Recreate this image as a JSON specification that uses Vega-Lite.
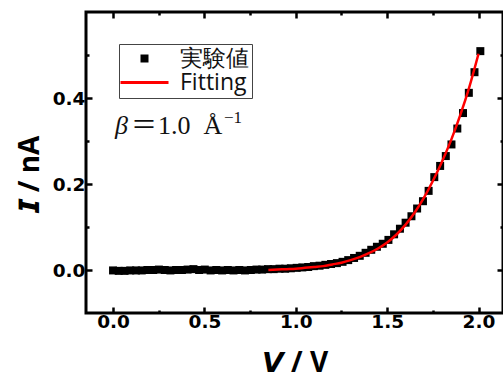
{
  "$schema": "https://vega.github.io/schema/vega-lite/v6.json",
  "width": 417,
  "height": 301,
  "autosize": {"type": "none"},
  "padding": {"left": 86, "top": 12, "right": 0, "bottom": 60},
  "background": "white",
  "config": {
    "view": {"stroke": "black", "strokeWidth": 3},
    "axis": {
      "domain": false,
      "grid": false,
      "tickColor": "black",
      "tickWidth": 2.5,
      "labelFont": "DejaVu Sans",
      "labelFontWeight": "bold",
      "labelFontSize": 18.5,
      "labelColor": "black",
      "titleFont": "Open Sans",
      "titleFontWeight": "bold",
      "titleFontSize": 28,
      "titleColor": "black"
    }
  },
  "datasets": {
    "points": [
      {"V": 0.000, "I": -0.001, "series": "実験値"},
      {"V": 0.031, "I": -0.002, "series": "実験値"},
      {"V": 0.063, "I": -0.002, "series": "実験値"},
      {"V": 0.094, "I": -0.001, "series": "実験値"},
      {"V": 0.126, "I": -0.001, "series": "実験値"},
      {"V": 0.157, "I": -0.001, "series": "実験値"},
      {"V": 0.188, "I": 0.000, "series": "実験値"},
      {"V": 0.220, "I": 0.000, "series": "実験値"},
      {"V": 0.251, "I": 0.001, "series": "実験値"},
      {"V": 0.283, "I": 0.000, "series": "実験値"},
      {"V": 0.314, "I": -0.001, "series": "実験値"},
      {"V": 0.345, "I": 0.000, "series": "実験値"},
      {"V": 0.377, "I": 0.000, "series": "実験値"},
      {"V": 0.408, "I": 0.001, "series": "実験値"},
      {"V": 0.440, "I": 0.002, "series": "実験値"},
      {"V": 0.471, "I": 0.000, "series": "実験値"},
      {"V": 0.502, "I": 0.001, "series": "実験値"},
      {"V": 0.534, "I": -0.001, "series": "実験値"},
      {"V": 0.565, "I": 0.000, "series": "実験値"},
      {"V": 0.597, "I": -0.001, "series": "実験値"},
      {"V": 0.628, "I": 0.000, "series": "実験値"},
      {"V": 0.659, "I": -0.001, "series": "実験値"},
      {"V": 0.691, "I": 0.000, "series": "実験値"},
      {"V": 0.722, "I": -0.001, "series": "実験値"},
      {"V": 0.754, "I": 0.000, "series": "実験値"},
      {"V": 0.785, "I": 0.001, "series": "実験値"},
      {"V": 0.816, "I": 0.001, "series": "実験値"},
      {"V": 0.848, "I": 0.002, "series": "実験値"},
      {"V": 0.879, "I": 0.002, "series": "実験値"},
      {"V": 0.911, "I": 0.003, "series": "実験値"},
      {"V": 0.942, "I": 0.003, "series": "実験値"},
      {"V": 0.973, "I": 0.004, "series": "実験値"},
      {"V": 1.005, "I": 0.005, "series": "実験値"},
      {"V": 1.036, "I": 0.006, "series": "実験値"},
      {"V": 1.068, "I": 0.007, "series": "実験値"},
      {"V": 1.099, "I": 0.009, "series": "実験値"},
      {"V": 1.130, "I": 0.010, "series": "実験値"},
      {"V": 1.162, "I": 0.012, "series": "実験値"},
      {"V": 1.193, "I": 0.014, "series": "実験値"},
      {"V": 1.225, "I": 0.016, "series": "実験値"},
      {"V": 1.256, "I": 0.019, "series": "実験値"},
      {"V": 1.287, "I": 0.023, "series": "実験値"},
      {"V": 1.319, "I": 0.028, "series": "実験値"},
      {"V": 1.350, "I": 0.033, "series": "実験値"},
      {"V": 1.382, "I": 0.040, "series": "実験値"},
      {"V": 1.413, "I": 0.047, "series": "実験値"},
      {"V": 1.444, "I": 0.054, "series": "実験値"},
      {"V": 1.476, "I": 0.061, "series": "実験値"},
      {"V": 1.507, "I": 0.070, "series": "実験値"},
      {"V": 1.538, "I": 0.083, "series": "実験値"},
      {"V": 1.570, "I": 0.096, "series": "実験値"},
      {"V": 1.601, "I": 0.110, "series": "実験値"},
      {"V": 1.633, "I": 0.125, "series": "実験値"},
      {"V": 1.664, "I": 0.143, "series": "実験値"},
      {"V": 1.696, "I": 0.160, "series": "実験値"},
      {"V": 1.727, "I": 0.184, "series": "実験値"},
      {"V": 1.758, "I": 0.216, "series": "実験値"},
      {"V": 1.790, "I": 0.242, "series": "実験値"},
      {"V": 1.821, "I": 0.265, "series": "実験値"},
      {"V": 1.852, "I": 0.292, "series": "実験値"},
      {"V": 1.884, "I": 0.329, "series": "実験値"},
      {"V": 1.915, "I": 0.365, "series": "実験値"},
      {"V": 1.947, "I": 0.412, "series": "実験値"},
      {"V": 1.978, "I": 0.460, "series": "実験値"},
      {"V": 2.010, "I": 0.509, "series": "実験値"}
    ],
    "fit": [
      {"V": 0.85, "I": 0.000},
      {"V": 0.90, "I": 0.001},
      {"V": 0.95, "I": 0.002},
      {"V": 1.00, "I": 0.003},
      {"V": 1.05, "I": 0.005},
      {"V": 1.10, "I": 0.007},
      {"V": 1.15, "I": 0.009},
      {"V": 1.20, "I": 0.013},
      {"V": 1.25, "I": 0.017},
      {"V": 1.30, "I": 0.023},
      {"V": 1.35, "I": 0.030},
      {"V": 1.40, "I": 0.039},
      {"V": 1.45, "I": 0.050},
      {"V": 1.50, "I": 0.064},
      {"V": 1.55, "I": 0.082},
      {"V": 1.60, "I": 0.105},
      {"V": 1.65, "I": 0.133},
      {"V": 1.70, "I": 0.167},
      {"V": 1.75, "I": 0.207},
      {"V": 1.80, "I": 0.252},
      {"V": 1.85, "I": 0.302},
      {"V": 1.90, "I": 0.360},
      {"V": 1.95, "I": 0.426},
      {"V": 2.00, "I": 0.503}
    ],
    "note": [{"a": 1}]
  },
  "layer": [
    {
      "data": {"name": "points"},
      "mark": {"type": "point", "filled": true, "opacity": 1, "size": 64},
      "encoding": {
        "x": {
          "field": "V", "type": "quantitative",
          "scale": {"domain": [-0.148, 2.134], "nice": false, "zero": false},
          "axis": {
            "orient": "top",
            "values": [0, 0.25, 0.5, 0.75, 1, 1.25, 1.5, 1.75, 2],
            "labels": false,
            "title": null,
            "tickSize": {"condition": {"test": "round(datum.value*4)%2==0", "value": -6}, "value": -3}
          }
        },
        "y": {
          "field": "I", "type": "quantitative",
          "scale": {"domain": [-0.1, 0.6], "nice": false, "zero": false},
          "axis": {
            "orient": "right",
            "values": [0, 0.1, 0.2, 0.3, 0.4, 0.5],
            "labels": false,
            "title": null,
            "tickSize": {"condition": {"test": "round(datum.value*10)%2==0", "value": -6}, "value": -3}
          }
        },
        "color": {
          "field": "series", "type": "nominal",
          "scale": {"domain": ["実験値", "Fitting"], "range": ["#000000", "#ff0000"]},
          "legend": {
            "title": null,
            "orient": "none",
            "legendX": 33,
            "legendY": 32,
            "padding": 3,
            "strokeColor": "#444444",
            "fillColor": "white",
            "labelFont": "Open Sans",
            "labelFontSize": 23,
            "labelColor": "#111111",
            "symbolSize": 64,
            "symbolStrokeWidth": 0,
            "symbolOffset": 11,
            "labelOffset": 24,
            "rowPadding": 0
          }
        },
        "shape": {
          "field": "series", "type": "nominal",
          "scale": {"domain": ["実験値", "Fitting"], "range": ["M-6,-1M6,1M-1,-1H1V1H-1Z", "M-6,-0.4H6V0.4H-6Z"]},
          "legend": {
            "title": null,
            "orient": "none",
            "legendX": 33,
            "legendY": 32,
            "padding": 3,
            "strokeColor": "#444444",
            "fillColor": "white",
            "labelFont": "Open Sans",
            "labelFontSize": 23,
            "labelColor": "#111111",
            "symbolSize": 64,
            "symbolStrokeWidth": 0,
            "symbolOffset": 11,
            "labelOffset": 24,
            "rowPadding": 0
          }
        }
      }
    },
    {
      "data": {"name": "fit"},
      "mark": {"type": "line", "color": "#ff0000", "strokeWidth": 2.5, "interpolate": "monotone", "clip": true},
      "encoding": {
        "x": {
          "field": "V", "type": "quantitative",
          "scale": {"domain": [-0.148, 2.134], "nice": false, "zero": false},
          "axis": {
            "orient": "bottom",
            "values": [0, 0.25, 0.5, 0.75, 1, 1.25, 1.5, 1.75, 2],
            "labelExpr": "(round(datum.value*4)%2==0) ? format(datum.value, '.1f') : ''",
            "tickSize": {"condition": {"test": "round(datum.value*4)%2==0", "value": -6}, "value": -3},
            "labelPadding": 5,
            "title": "𝙑 / V",
            "titleBaseline": "alphabetic",
            "titleY": 58
          }
        },
        "y": {
          "field": "I", "type": "quantitative",
          "scale": {"domain": [-0.1, 0.6], "nice": false, "zero": false},
          "axis": {
            "orient": "left",
            "values": [0, 0.1, 0.2, 0.3, 0.4, 0.5],
            "labelExpr": "(round(datum.value*10)%2==0) ? format(datum.value, '.1f') : ''",
            "tickSize": {"condition": {"test": "round(datum.value*10)%2==0", "value": -6}, "value": -3},
            "labelPadding": 7,
            "title": "𝙄 / nA",
            "titleBaseline": "alphabetic",
            "titleX": -48,
            "titleY": 162
          }
        }
      }
    },
    {
      "data": {"name": "note"},
      "mark": {"type": "text", "text": "β", "font": "Liberation Serif", "fontStyle": "italic", "fontSize": 26, "align": "left", "baseline": "alphabetic", "color": "#111111"},
      "encoding": {
        "x": {"datum": 0.011, "type": "quantitative", "axis": null},
        "y": {"datum": 0.316, "type": "quantitative", "axis": null}
      }
    },
    {
      "data": {"name": "note"},
      "mark": {"type": "text", "text": "＝", "font": "Noto Sans CJK JP", "fontSize": 26, "align": "left", "baseline": "alphabetic", "color": "#111111"},
      "encoding": {
        "x": {"datum": 0.098, "type": "quantitative", "axis": null},
        "y": {"datum": 0.316, "type": "quantitative", "axis": null}
      }
    },
    {
      "data": {"name": "note"},
      "mark": {"type": "text", "text": "1.0", "font": "Liberation Serif", "fontSize": 26, "align": "left", "baseline": "alphabetic", "color": "#111111"},
      "encoding": {
        "x": {"datum": 0.246, "type": "quantitative", "axis": null},
        "y": {"datum": 0.316, "type": "quantitative", "axis": null}
      }
    },
    {
      "data": {"name": "note"},
      "mark": {"type": "text", "text": "Å", "font": "Liberation Serif", "fontSize": 26, "align": "left", "baseline": "alphabetic", "color": "#111111"},
      "encoding": {
        "x": {"datum": 0.495, "type": "quantitative", "axis": null},
        "y": {"datum": 0.316, "type": "quantitative", "axis": null}
      }
    },
    {
      "data": {"name": "note"},
      "mark": {"type": "text", "text": "−1", "font": "Liberation Serif", "fontSize": 17, "align": "left", "baseline": "alphabetic", "color": "#111111"},
      "encoding": {
        "x": {"datum": 0.607, "type": "quantitative", "axis": null},
        "y": {"datum": 0.343, "type": "quantitative", "axis": null}
      }
    }
  ],
  "resolve": {"axis": {"x": "independent", "y": "independent"}}
}
